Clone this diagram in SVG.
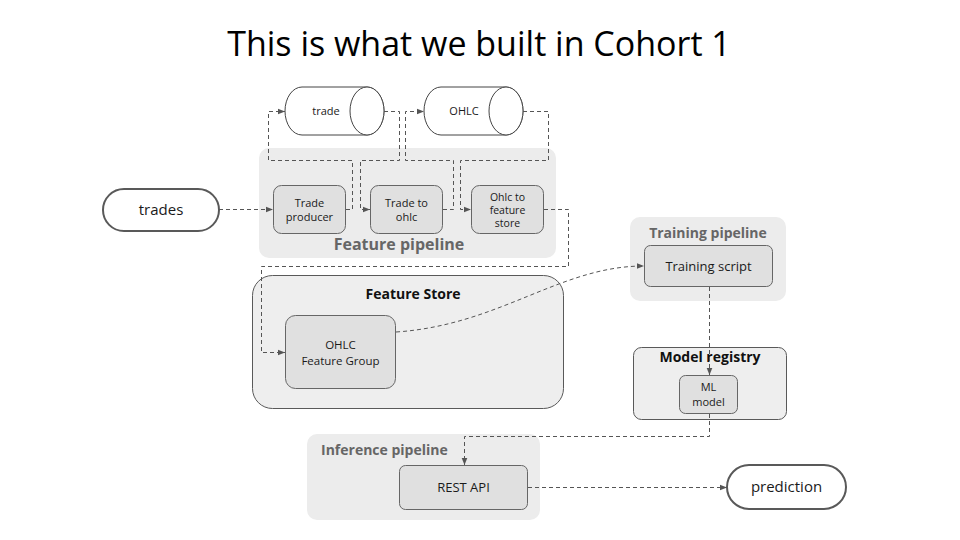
<svg xmlns="http://www.w3.org/2000/svg" width="960" height="540" viewBox="0 0 960 540">
<defs>
<style>
text{font-family:"Open Sans","Noto Sans","DejaVu Sans",sans-serif;text-anchor:middle;fill:#1a1a1a}
.grp{fill:#ececec;stroke:none}
.box{fill:#e0e0e0;stroke:#666;stroke-width:1}
.term{fill:#fff;stroke:#595959;stroke-width:2}
.cyl{fill:#fff;stroke:#444;stroke-width:1}
.lbl{font-size:11px}
.glbl{font-weight:bold;fill:#666}
.blbl{font-weight:bold;fill:#111}
.conn path{fill:none;stroke:#555;stroke-width:1;stroke-dasharray:4 3;marker-end:url(#arr)}
</style>
<marker id="arr" viewBox="0 0 10 10" refX="10" refY="5" markerWidth="7" markerHeight="7" markerUnits="userSpaceOnUse" orient="auto">
<path d="M0,1 L10,5 L0,9 Z" fill="#555"/>
</marker>
</defs>
<rect width="960" height="540" fill="#fff"/>
<text id="title" x="479" y="56" style="font-size:34px;fill:#000">This is what we built in Cohort 1</text>

<g id="feature-pipeline">
<rect class="grp" x="259" y="148" width="297" height="110" rx="10"/>
<text class="glbl" x="399" y="250" style="font-size:16px">Feature pipeline</text>
</g>
<g id="feature-store">
<rect x="252.5" y="275.5" width="311" height="133" rx="20" fill="#eeeeee" stroke="#595959"/>
<text class="blbl" x="413" y="299" style="font-size:14px">Feature Store</text>
</g>
<g id="training-pipeline">
<rect class="grp" x="630" y="217" width="156" height="84" rx="10"/>
<text class="glbl" x="708" y="238" style="font-size:14px">Training pipeline</text>
</g>
<g id="model-registry">
<rect x="633.5" y="347.5" width="153" height="72" rx="8" fill="#eeeeee" stroke="#595959"/>
<text class="blbl" x="710" y="362" style="font-size:14px">Model registry</text>
</g>
<g id="inference-pipeline">
<rect class="grp" x="307" y="434" width="233" height="86" rx="10"/>
<text class="glbl" x="321" y="455" style="font-size:14px;text-anchor:start">Inference pipeline</text>
</g>

<g id="trades">
<rect class="term" x="103" y="189" width="116" height="42" rx="21"/>
<text x="161" y="215" style="font-size:15px">trades</text>
</g>
<g id="trade-topic">
<path class="cyl" d="M302,87 L367,87 A17,24 0 0 1 367,135 L302,135 A17,24 0 0 1 302,87 Z"/>
<ellipse class="cyl" cx="367" cy="111" rx="17" ry="24"/>
<text class="lbl" x="326" y="115">trade</text>
</g>
<g id="ohlc-topic">
<path class="cyl" d="M441,87 L506,87 A17,24 0 0 1 506,135 L441,135 A17,24 0 0 1 441,87 Z"/>
<ellipse class="cyl" cx="506" cy="111" rx="17" ry="24"/>
<text class="lbl" x="464" y="115">OHLC</text>
</g>
<g id="trade-producer">
<rect class="box" x="273.5" y="185.5" width="72" height="48" rx="8"/>
<text class="lbl" x="309.5" y="207">Trade</text>
<text class="lbl" x="309.5" y="221">producer</text>
</g>
<g id="trade-to-ohlc">
<rect class="box" x="370.5" y="185.5" width="72" height="48" rx="8"/>
<text class="lbl" x="406.5" y="207">Trade to</text>
<text class="lbl" x="406.5" y="221">ohlc</text>
</g>
<g id="ohlc-to-feature-store">
<rect class="box" x="471.5" y="185.5" width="72" height="48" rx="8"/>
<text x="507.5" y="201" style="font-size:10.5px">Ohlc to</text>
<text x="507.5" y="214" style="font-size:10.5px">feature</text>
<text x="507.5" y="227" style="font-size:10.5px">store</text>
</g>
<g id="ohlc-feature-group">
<rect class="box" x="285.5" y="315.5" width="110" height="73" rx="10"/>
<text x="340.5" y="349" style="font-size:11.5px">OHLC</text>
<text x="340.5" y="364.5" style="font-size:11.5px">Feature Group</text>
</g>
<g id="training-script">
<rect class="box" x="644.5" y="245.5" width="128" height="41" rx="6"/>
<text x="708.5" y="271" style="font-size:13px">Training script</text>
</g>
<g id="ml-model">
<rect class="box" x="679.5" y="375.5" width="58" height="38" rx="6"/>
<text class="lbl" x="708.5" y="391">ML</text>
<text class="lbl" x="708.5" y="406">model</text>
</g>
<g id="rest-api">
<rect class="box" x="399.5" y="465.5" width="128" height="44" rx="6"/>
<text x="463.5" y="492" style="font-size:13px">REST API</text>
</g>
<g id="prediction">
<rect class="term" x="727" y="465" width="119" height="44" rx="22"/>
<text x="786.5" y="492" style="font-size:15px">prediction</text>
</g>

<g id="connectors" class="conn">
<path d="M219,209.5 H273"/>
<path d="M346,209.5 H352.5 V160.5 H268.5 V111.5 H285"/>
<path d="M384,111.5 H399.5 V160.5 H360.5 V209.5 H370"/>
<path d="M443,209.5 H453.5 V160.5 H405.5 V111.5 H424"/>
<path d="M523,111.5 H548.5 V160.5 H460.5 V209.5 H471"/>
<path d="M544,209.5 H568.5 V266.5 H261.5 V352.5 H285"/>
<path d="M396,332 C500,325 560,266 644,266"/>
<path d="M709.5,287 V375"/>
<path d="M709.5,414 V436.5 H464.5 V465"/>
<path d="M528,487.5 H727"/>
</g>
</svg>
